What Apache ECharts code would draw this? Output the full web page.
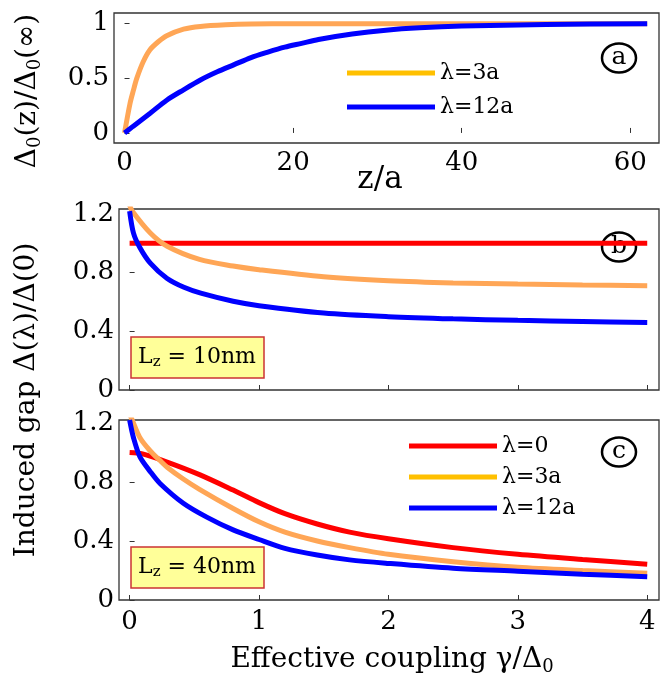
<!DOCTYPE html>
<html>
<head>
<meta charset="utf-8">
<script src="https://cdn.jsdelivr.net/npm/echarts@6/dist/echarts.min.js"></script>
<style>html,body{margin:0;padding:0;background:#fff}#main{width:668px;height:679px}</style>
</head>
<body>
<div id="main"></div>
<script>
var serif='DejaVu Serif';
var RED='#ff0000',ORANGE='#ffa656',GOLD='#ffc000',BLUE='#0000ff';

// panel a : Δ0(z)/Δ0(∞) against z/a
var zTicks=[0,20,40,60];
var aTicks=[0,0.5,1];
var aZ3=[0,0.65,1.05,1.45,2.2,3,4,5,7,9,12,15,20,30,40,50,62];
var aV3=[0,0.27,0.39,0.5,0.65,0.76,0.835,0.89,0.95,0.975,0.99,0.997,1,1,1,1,1];
var aZ12=[0,1,3,5,7,9,11,13,15,17,19,21,23,27,31,35,40,50,62];
var aV12=[0,0.06,0.178,0.30,0.395,0.485,0.56,0.625,0.69,0.74,0.785,0.82,0.855,0.905,0.94,0.962,0.978,0.993,1.0];

// panels b, c : induced gap against effective coupling
var gTicks=[0,1,2,3,4];
var gapTicks=[0,0.4,0.8,1.2];
var bG0=[0,4];
var bV0=[1,1];
var bG3=[0,0.02,0.16,0.29,0.54,0.8,1.0,1.5,2.0,2.5,3.0,3.5,4.0];
var bV3=[1.26,1.22,1.07,0.98,0.89,0.845,0.82,0.772,0.745,0.73,0.722,0.716,0.711];
var bG12=[0,0.03,0.08,0.16,0.29,0.42,0.55,0.8,1.0,1.5,2.0,2.5,3.0,3.5,4.0];
var bV12=[1.22,1.07,0.97,0.865,0.76,0.70,0.66,0.605,0.575,0.525,0.50,0.485,0.475,0.467,0.46];

var cG0=[0,0.1,0.29,0.54,0.8,1.0,1.2,1.45,1.7,2.0,2.5,3.0,3.5,4.0];
var cV0=[1.0,0.99,0.935,0.85,0.745,0.66,0.585,0.515,0.46,0.415,0.355,0.31,0.275,0.243];
var cG3=[0,0.02,0.08,0.16,0.235,0.29,0.415,0.54,0.8,1.0,1.2,1.45,1.7,2.0,2.5,3.0,3.5,4.0];
var cV3=[1.26,1.22,1.1,1.01,0.945,0.9,0.82,0.75,0.62,0.53,0.46,0.40,0.355,0.31,0.26,0.222,0.2,0.182];
var cG12=[0,0.03,0.08,0.16,0.235,0.415,0.6,0.8,1.0,1.2,1.45,1.7,2.0,2.5,3.0,3.5,4.0];
var cV12=[1.22,1.1,0.97,0.87,0.79,0.656,0.56,0.475,0.41,0.35,0.305,0.272,0.248,0.215,0.195,0.175,0.158];

function zip(xs,ys){return xs.map(function(x,i){return [x,ys[i]];});}

var myChart=echarts.init(document.getElementById('main'));

function xAx(grid,min,max,ticks,showLabel,margin){
  return {type:'value',gridIndex:grid,min:min,max:max,
    axisLine:{show:false},splitLine:{show:false},
    axisTick:{inside:true,length:5,customValues:ticks,lineStyle:{color:'#333'}},
    axisLabel:{show:showLabel,customValues:ticks,margin:margin,fontFamily:serif,fontSize:26,color:'#000'}};
}
function yAx(grid,min,max,ticks){
  return {type:'value',gridIndex:grid,min:min,max:max,
    axisLine:{show:false},splitLine:{show:false},
    axisTick:{inside:true,length:5,customValues:ticks,lineStyle:{color:'#333'}},
    axisLabel:{customValues:ticks,margin:5,fontFamily:serif,fontSize:26,color:'#000'}};
}
function line(name,grid,xs,ys,color){
  return {name:name,type:'line',xAxisIndex:grid,yAxisIndex:grid,data:zip(xs,ys),
    symbol:'none',smooth:0.3,clip:true,
    itemStyle:{color:color},lineStyle:{width:5,color:color}};
}
function circleTag(cx,cy,ch){
  return {type:'group',x:cx,y:cy,children:[
    {type:'ellipse',shape:{cx:0,cy:0,rx:17,ry:14.5},style:{fill:null,stroke:'#000',lineWidth:2.5}},
    {type:'text',style:{text:ch,x:0,y:-1,align:'center',verticalAlign:'middle',fontFamily:serif,fontSize:25,fill:'#000'}}
  ]};
}
function lzBox(y,label){
  return {type:'group',x:131,y:y,children:[
    {type:'rect',shape:{x:0,y:0,width:133,height:41},style:{fill:'#ffff99',stroke:'#cc3333',lineWidth:1.5}},
    {type:'text',style:{x:66,y:20,align:'center',verticalAlign:'middle',
      text:'{m|L}{s|z}{m| = '+label+'}',
      rich:{m:{fontFamily:serif,fontSize:22,lineHeight:26,color:'#000'},
            s:{fontFamily:serif,fontSize:15,lineHeight:15,verticalAlign:'bottom',color:'#000'}}}}
  ]};
}
var richName={m:{fontFamily:serif,fontSize:28,lineHeight:32,color:'#000'},
              s:{fontFamily:serif,fontSize:18,lineHeight:18,verticalAlign:'bottom',color:'#000'}};

var legendText={fontFamily:serif,fontSize:22,lineHeight:26,color:'#000'};

option={
  animation:false,
  backgroundColor:'#fff',
  grid:[
    {left:114,top:13,width:545,height:130,show:true,borderColor:'#333',borderWidth:1.3},
    {left:119,top:209,width:540,height:181,show:true,borderColor:'#333',borderWidth:1.3},
    {left:119,top:420,width:540,height:180,show:true,borderColor:'#333',borderWidth:1.3}
  ],
  xAxis:[
    xAx(0,-1.25,63.4,zTicks,true,7),
    xAx(1,-0.082,4.091,gTicks,false,9),
    xAx(2,-0.082,4.091,gTicks,true,9)
  ],
  yAxis:[
    yAx(0,-0.092,1.098,aTicks),
    yAx(1,0,1.234,gapTicks),
    yAx(2,0,1.22,gapTicks)
  ],
  legend:[
    {left:347,top:60,orient:'vertical',padding:0,icon:'rect',itemWidth:88,itemHeight:5,itemGap:8,
     selectedMode:false,textStyle:legendText,
     data:[{name:'λ=3a',itemStyle:{color:GOLD}},{name:'λ=12a',itemStyle:{color:BLUE}}]},
    {left:409,top:433,orient:'vertical',padding:0,icon:'rect',itemWidth:88,itemHeight:5,itemGap:5,
     selectedMode:false,textStyle:legendText,
     data:[{name:'λ=0',itemStyle:{color:RED}},{name:'λ=3a',itemStyle:{color:GOLD}},{name:'λ=12a',itemStyle:{color:BLUE}}]}
  ],
  series:[
    line('λ=3a',0,aZ3,aV3,ORANGE),
    line('λ=12a',0,aZ12,aV12,BLUE),
    line('λ=0',1,bG0,bV0,RED),
    line('λ=3a',1,bG3,bV3,ORANGE),
    line('λ=12a',1,bG12,bV12,BLUE),
    line('λ=0',2,cG0,cV0,RED),
    line('λ=3a',2,cG3,cV3,ORANGE),
    line('λ=12a',2,cG12,cV12,BLUE)
  ],
  graphic:[
    circleTag(619,58,'a'),
    circleTag(619,247,'b'),
    circleTag(619,452,'c'),
    lzBox(337,'10nm'),
    lzBox(547,'40nm'),
    {type:'text',x:380,y:180,style:{text:'z/a',align:'center',verticalAlign:'middle',fontFamily:serif,fontSize:31,fill:'#000'}},
    {type:'text',x:392,y:660,style:{text:'{m|Effective coupling γ/Δ}{s|0}',align:'center',verticalAlign:'middle',rich:richName}},
    {type:'text',x:28,y:91,rotation:Math.PI/2,style:{text:'{m|Δ}{s|0}{m|(z)/Δ}{s|0}{m|(∞)}',align:'center',verticalAlign:'middle',rich:richName}},
    {type:'text',x:27,y:400,rotation:Math.PI/2,style:{text:'{m|Induced gap Δ(λ)/Δ(0)}',align:'center',verticalAlign:'middle',rich:richName}}
  ]
};

myChart.setOption(option);
</script>
</body>
</html>
